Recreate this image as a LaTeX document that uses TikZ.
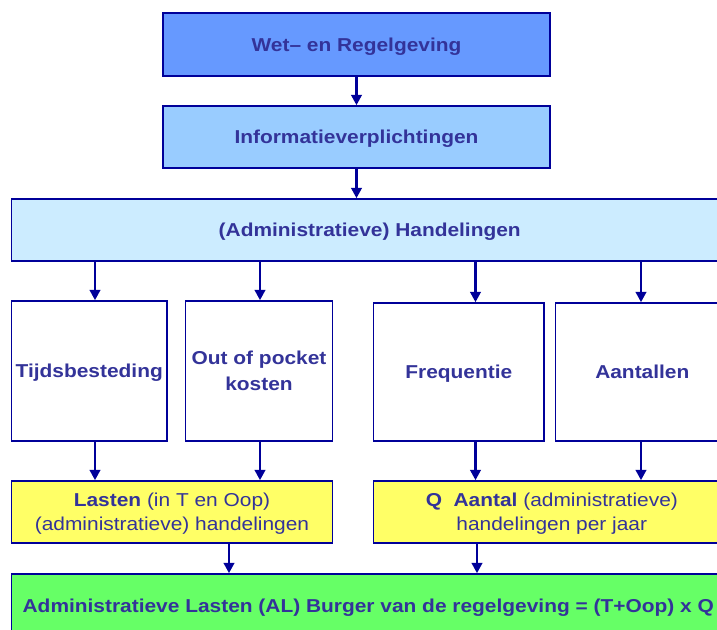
\documentclass[tikz,border=0pt]{standalone}
\usepackage{fontspec}
\setmainfont{Liberation Sans}[FakeStretch=1.12]
\usetikzlibrary{arrows.meta}
\definecolor{txt}{HTML}{333399}
\definecolor{edge}{HTML}{000099}
\definecolor{cwet}{HTML}{6699FF}
\definecolor{cinfo}{HTML}{99CCFF}
\definecolor{chand}{HTML}{CCECFF}
\definecolor{cyel}{HTML}{FFFF66}
\definecolor{cgreen}{HTML}{66FF66}
\begin{document}
\begin{tikzpicture}[x=0.75pt,y=-0.75pt,
  box/.style={draw=edge,line width=1.1pt,rectangle,inner sep=0pt,align=center,
    text=txt,text depth=-1pt,font=\fontsize{14}{19.5}\selectfont\bfseries},
  tall/.style={box,fill=white,text depth=-3pt},
  yel/.style={box,fill=cyel,font=\fontsize{14}{18}\selectfont},
  arr/.style={draw=edge,line width=2.1pt,-{Triangle[width=7.8pt,length=7.8pt]}}]
\useasboundingbox (0,0) rectangle (717,630);
\node[box,fill=cwet,minimum width=290.25pt,minimum height=47.25pt] (wet) at (356.5,44.5) {Wet– en Regelgeving};
\node[box,fill=cinfo,minimum width=290.25pt,minimum height=46.5pt] (info) at (356.5,137) {Informatieverplichtingen};
\node[box,fill=chand,minimum width=537.4pt,minimum height=46.5pt] (hand) at (369.75,230) {(Administratieve) Handelingen};
\node[tall,minimum width=116.6pt,minimum height=105pt] (tij) at (89.25,371) {Tijdsbesteding};
\node[tall,minimum width=110.1pt,minimum height=105pt] (oop) at (259,371) {Out of pocket\\kosten};
\node[tall,minimum width=127.8pt,minimum height=103.5pt] (freq) at (458.8,372) {Frequentie};
\node[tall,minimum width=130pt,minimum height=103.5pt] (aant) at (642.3,372) {Aantallen};
\node[yel,text depth=-3pt,minimum width=240.7pt,minimum height=46.5pt] (last) at (172,512) {\textbf{Lasten} (in T en Oop)\\(administratieve) handelingen};
\node[yel,text depth=-3pt,minimum width=267.3pt,minimum height=46.5pt] (q) at (551.8,512) {\textbf{Q\ \ Aantal} (administratieve)\\handelingen per jaar};
\node[box,fill=cgreen,minimum width=535.1pt,minimum height=48pt] (al) at (368.25,606) {Administratieve Lasten (AL) Burger van de regelgeving = (T+Oop) x Q};
\coordinate (c1) at (95,0);
\coordinate (c2) at (260,0);
\coordinate (c3) at (475.5,0);
\coordinate (c4) at (641,0);
\coordinate (c5) at (229,0);
\coordinate (c6) at (477,0);
\draw[arr] (wet.south) -- (info.north);
\draw[arr] (info.south) -- (info.south |- hand.north);
\draw[arr] (hand.south -| c1) -- (c1 |- tij.north);
\draw[arr] (hand.south -| c2) -- (c2 |- oop.north);
\draw[arr] (hand.south -| c3) -- (c3 |- freq.north);
\draw[arr] (hand.south -| c4) -- (c4 |- aant.north);
\draw[arr] (tij.south -| c1) -- (c1 |- last.north);
\draw[arr] (oop.south -| c2) -- (c2 |- last.north);
\draw[arr] (freq.south -| c3) -- (c3 |- q.north);
\draw[arr] (aant.south -| c4) -- (c4 |- q.north);
\draw[arr] (last.south -| c5) -- (c5 |- al.north);
\draw[arr] (q.south -| c6) -- (c6 |- al.north);
\end{tikzpicture}
\end{document}
